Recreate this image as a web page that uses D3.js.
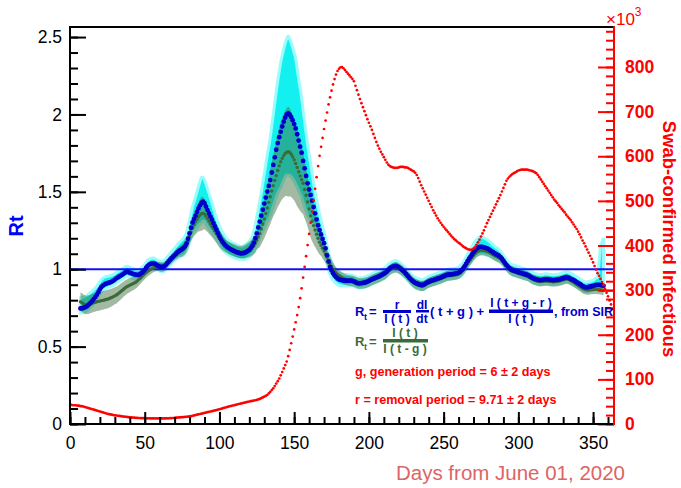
<!DOCTYPE html>
<html><head><meta charset="utf-8">
<script src="https://cdn.jsdelivr.net/npm/d3@7"></script>
<style>body{margin:0;background:#fff} svg{display:block} text{font-family:"Liberation Sans",Arial,sans-serif}</style>
</head><body><svg id="c" width="681" height="488"></svg>
<script>
// ---------------- DATA ----------------
// Swab-confirmed infectious (x10^3), daily from day 0
const redStart = 0;
const infectious = [
43,43,42,42,42,41,41,40,40,39,
38,37,36,35,34,33,32,31,30,29,
28,27,26,25,24,23,22,21.5,21,20,
19.5,19,18.5,18,17.5,17,16.6,16.2,15.8,15.4,
15,14.7,14.4,14.1,13.8,13.6,13.4,13.2,13.1,13,
13,12.9,12.8,12.7,12.6,12.5,12.5,12.4,12.4,12.4,
12.4,12.4,12.5,12.5,12.6,12.7,12.8,13,13.2,13.5,
13.8,14.1,14.4,14.7,15,15.3,15.6,15.9,16.2,16.5,
16.9,17.6,18.4,19.2,20,20.8,21.6,22.4,23.2,24,
24.8,25.6,26.4,27.2,28,28.8,29.6,30.4,31.2,32,
33,34,35,36,37,38,39,39.8,40.6,41.4,
42.2,43,44,44.8,45.6,46.4,47.2,48,48.8,49.6,
50.4,51.1,51.8,52.5,53.2,54,55,56.3,57.8,59.5,
61.3,63.1,65,68.5,72,76,80,85,90.5,96,
102,109,116.5,124.5,132,140,152,166,181,196,
212,228,244,262,282,304,328,352,376,401,
426,451,476,501,527,553,578,601,621,641,
661,680,698,716,732,747,761,773,783,791,
796,799,800,797,793,789,785,781,777,773,
768,758,748,738,728,719,710,701,692,683,
675,667,659,650,641,632,624,617,610,604,
598,592,586,581,578,576,575,574,574,574,
575,576,576,576,575,575,574,572,570,568,
566,563,558,551,543,535,528,521,514,507,
500,493,486,479,473,467,461,456,451,446,
442,438,434,430,426,422,418,415,412,409,
406,404,401,398,396,394,392,391,390,391,
393,396,401,407,413,420,427,434,442,450,
457,464,471,478,485,492,499,506,513,521,
529,537,545,550,554,557,560,562,564,566,
568,569,570,570,570,570,570,569,568,567,
566,564,562,558,553,548,543,538,533,528,
523,518,513,508,503,499,495,490,486,482,
478,474,469,465,461,457,452,447,442,437,
431,425,418,411,405,398,391,384,377,370,
362,354,346,338,332,325,318,311,303,294,
286,277,268,258];

// Rt from SIR (blue) and Rt = I(t)/I(t-g) (green), daily from day 7
const rtStart = 7;
const rtSIR = [
0.747,0.748,0.750,
0.754,0.758,0.766,0.776,0.786,0.797,0.809,0.821,0.835,0.852,
0.870,0.885,0.894,0.901,0.906,0.910,0.913,0.916,0.920,0.926,
0.933,0.941,0.947,0.953,0.959,0.965,0.972,0.979,0.983,0.982,
0.978,0.974,0.970,0.967,0.965,0.964,0.964,0.969,0.976,0.984,
0.996,1.010,1.022,1.030,1.035,1.038,1.038,1.034,1.027,1.021,
1.017,1.015,1.015,1.018,1.027,1.039,1.050,1.060,1.071,1.081,
1.090,1.100,1.110,1.118,1.124,1.130,1.137,1.148,1.167,1.197,
1.232,1.268,1.302,1.325,1.346,1.370,1.393,1.413,1.430,1.436,
1.427,1.405,1.382,1.360,1.340,1.320,1.298,1.276,1.255,1.233,
1.212,1.193,1.178,1.165,1.154,1.145,1.138,1.132,1.126,1.121,
1.117,1.112,1.108,1.105,1.103,1.103,1.104,1.107,1.112,1.118,
1.125,1.137,1.152,1.172,1.200,1.232,1.270,1.308,1.346,1.385,
1.424,1.463,1.502,1.538,1.576,1.625,1.674,1.723,1.772,1.815,
1.853,1.888,1.922,1.953,1.980,2.000,2.007,1.998,1.983,1.962,
1.938,1.910,1.872,1.831,1.792,1.753,1.700,1.652,1.603,1.555,
1.515,1.480,1.443,1.402,1.361,1.322,1.284,1.253,1.225,1.196,
1.168,1.135,1.090,1.050,1.015,0.992,0.974,0.960,0.949,0.940,
0.934,0.931,0.929,0.927,0.926,0.926,0.926,0.926,0.926,0.925,
0.921,0.916,0.911,0.909,0.909,0.910,0.912,0.914,0.916,0.920,
0.925,0.930,0.935,0.939,0.943,0.947,0.951,0.955,0.960,0.966,
0.971,0.977,0.986,0.996,1.005,1.012,1.017,1.020,1.021,1.018,
1.012,1.005,0.997,0.988,0.979,0.968,0.957,0.945,0.935,0.926,
0.918,0.912,0.908,0.904,0.900,0.898,0.898,0.902,0.909,0.915,
0.919,0.923,0.927,0.930,0.933,0.936,0.940,0.943,0.946,0.950,
0.955,0.959,0.963,0.965,0.966,0.967,0.968,0.970,0.972,0.974,
0.977,0.984,0.993,1.003,1.018,1.035,1.052,1.068,1.081,1.095,
1.110,1.122,1.132,1.140,1.144,1.145,1.144,1.141,1.138,1.135,
1.130,1.124,1.117,1.110,1.104,1.098,1.093,1.087,1.080,1.068,
1.055,1.041,1.028,1.017,1.007,0.999,0.994,0.991,0.988,0.985,
0.981,0.978,0.975,0.972,0.969,0.966,0.963,0.958,0.952,0.946,
0.941,0.938,0.935,0.932,0.930,0.930,0.931,0.933,0.935,0.935,
0.934,0.932,0.931,0.930,0.930,0.931,0.932,0.934,0.936,0.939,
0.942,0.945,0.948,0.947,0.943,0.938,0.933,0.929,0.923,0.916,
0.910,0.905,0.898,0.891,0.886,0.883,0.883,0.885,0.887,0.890,
0.893,0.896,0.898,0.899,0.899,0.898,0.896,0.893];

const rtRatio = [
0.790,0.784,0.777,
0.771,0.769,0.770,0.773,0.777,0.781,0.784,0.787,0.790,0.792,
0.794,0.797,0.799,0.801,0.804,0.806,0.810,0.814,0.818,0.823,
0.828,0.833,0.840,0.848,0.856,0.864,0.872,0.880,0.887,0.892,
0.897,0.902,0.906,0.911,0.916,0.924,0.933,0.942,0.952,0.962,
0.971,0.979,0.987,0.993,0.999,1.005,1.010,1.015,1.018,1.018,
1.016,1.014,1.014,1.017,1.025,1.036,1.047,1.057,1.067,1.077,
1.086,1.095,1.104,1.111,1.117,1.123,1.130,1.140,1.157,1.182,
1.212,1.240,1.266,1.287,1.306,1.323,1.338,1.350,1.358,1.361,
1.356,1.343,1.327,1.310,1.294,1.278,1.262,1.246,1.230,1.214,
1.199,1.185,1.173,1.162,1.153,1.145,1.139,1.134,1.129,1.125,
1.121,1.117,1.114,1.112,1.110,1.110,1.111,1.114,1.118,1.123,
1.129,1.136,1.143,1.152,1.166,1.186,1.208,1.230,1.260,1.292,
1.325,1.360,1.396,1.432,1.468,1.505,1.540,1.573,1.605,1.638,
1.668,1.694,1.716,1.734,1.748,1.756,1.759,1.755,1.743,1.727,
1.707,1.683,1.657,1.630,1.603,1.578,1.555,1.515,1.478,1.435,
1.390,1.345,1.310,1.282,1.253,1.226,1.200,1.175,1.155,1.136,
1.117,1.098,1.077,1.055,1.036,1.018,1.002,0.989,0.978,0.968,
0.960,0.953,0.946,0.940,0.935,0.931,0.928,0.926,0.925,0.923,
0.920,0.916,0.912,0.909,0.908,0.908,0.909,0.911,0.913,0.916,
0.920,0.925,0.930,0.934,0.938,0.942,0.946,0.950,0.955,0.960,
0.965,0.970,0.978,0.987,0.995,1.002,1.007,1.010,1.011,1.009,
1.005,0.999,0.992,0.984,0.975,0.965,0.954,0.943,0.932,0.922,
0.913,0.906,0.901,0.897,0.894,0.892,0.892,0.895,0.901,0.907,
0.912,0.916,0.920,0.923,0.926,0.929,0.933,0.936,0.939,0.943,
0.947,0.951,0.955,0.958,0.959,0.960,0.961,0.963,0.965,0.967,
0.970,0.976,0.984,0.993,1.006,1.021,1.036,1.050,1.062,1.075,
1.088,1.099,1.109,1.116,1.121,1.124,1.124,1.122,1.119,1.116,
1.112,1.107,1.101,1.095,1.089,1.084,1.079,1.073,1.067,1.057,
1.045,1.032,1.020,1.009,1.000,0.992,0.987,0.983,0.980,0.977,
0.973,0.970,0.967,0.964,0.961,0.958,0.955,0.950,0.944,0.938,
0.933,0.929,0.926,0.923,0.921,0.920,0.921,0.922,0.924,0.924,
0.923,0.921,0.920,0.919,0.919,0.920,0.921,0.923,0.925,0.928,
0.931,0.934,0.937,0.936,0.932,0.927,0.921,0.916,0.909,0.902,
0.895,0.889,0.882,0.875,0.870,0.867,0.866,0.866,0.867,0.868,
0.869,0.870,0.870,0.869,0.868,0.866,0.864,0.862];

// error extents above / below the curves (read at these days)
const cyanDays = [7,12,20,30,40,50,60,70,78,83,88,93,98,105,115,122,128,135,141,146,151,157,163,170,178,190,260,268,275,282,290,350,353,355,357];
const cyanHi   = [0.07,0.07,0.05,0.04,0.035,0.035,0.035,0.045,0.07,0.11,0.165,0.13,0.075,0.05,0.045,0.06,0.15,0.3,0.45,0.5,0.45,0.3,0.15,0.07,0.045,0.035,0.035,0.05,0.065,0.05,0.035,0.035,0.05,0.25,0.31];
const cyanLo   = [0.03,0.03,0.03,0.03,0.03,0.03,0.03,0.035,0.05,0.08,0.13,0.1,0.06,0.045,0.04,0.05,0.12,0.25,0.36,0.4,0.36,0.25,0.12,0.06,0.04,0.03,0.03,0.04,0.05,0.04,0.03,0.03,0.03,0.03,0.03];
const greenDays = [7,15,25,35,45,55,70,80,88,95,105,115,125,132,140,146,152,160,168,178,357];
const greenErr  = [0.06,0.06,0.06,0.05,0.04,0.03,0.03,0.05,0.11,0.07,0.04,0.04,0.06,0.15,0.25,0.29,0.25,0.15,0.07,0.035,0.03];

const xTicks = [0,50,100,150,200,250,300,350];
const leftTicks = [0,0.5,1,1.5,2,2.5];
const leftTickLabels = ["0","0.5","1","1.5","2","2.5"];
const rightTicks = [0,100,200,300,400,500,600,700,800];

// ---------------- LAYOUT ----------------
const L=70, R=614, T=27, B=424;
const x  = d3.scaleLinear().domain([0,364]).range([L,R]);
const y  = d3.scaleLinear().domain([0,2.565]).range([B,T]);
const y2 = d3.scaleLinear().domain([0,889.6]).range([B,T]);

const svg = d3.select("#c");
svg.append("defs").append("clipPath").attr("id","clip")
  .append("rect").attr("x",L).attr("y",T).attr("width",R-L).attr("height",B-T);
const plot = svg.append("g").attr("clip-path","url(#clip)");

const sir = rtSIR.map((v,i)=>({d:rtStart+i, v}));
const rat = rtRatio.map((v,i)=>({d:rtStart+i, v}));
const inf = infectious.map((v,i)=>({d:redStart+i, v}));
const cH = d3.scaleLinear().domain(cyanDays).range(cyanHi).clamp(true);
const cL = d3.scaleLinear().domain(cyanDays).range(cyanLo).clamp(true);
const gE = d3.scaleLinear().domain(greenDays).range(greenErr).clamp(true);

const areaC = d3.area().x(p=>x(p.d)).y0(p=>y(p.v-cL(p.d))).y1(p=>y(p.v+cH(p.d))).curve(d3.curveMonotoneX);
const areaG = d3.area().x(p=>x(p.d)).y0(p=>y(p.v-gE(p.d))).y1(p=>y(p.v+gE(p.d))).curve(d3.curveMonotoneX);

plot.append("path").datum(sir).attr("d",areaC).attr("fill","#12f0f0").attr("stroke","#9cfbfb").attr("stroke-width",3);
plot.append("path").datum(rat).attr("d",areaG).attr("fill","rgb(60,110,60)").attr("fill-opacity",0.48);

// Rt = 1 line
plot.append("line").attr("x1",L).attr("x2",R).attr("y1",y(1)).attr("y2",y(1))
  .attr("stroke","#1010ff").attr("stroke-width",2);

plot.append("g").selectAll("circle").data(rat).join("circle")
  .attr("cx",p=>x(p.d)).attr("cy",p=>y(p.v)).attr("r",1.7).attr("fill","#3b6b3b");
plot.append("g").selectAll("circle").data(sir).join("circle")
  .attr("cx",p=>x(p.d)).attr("cy",p=>y(p.v)).attr("r",2.4).attr("fill","#0000cc");
plot.append("g").selectAll("circle").data(inf).join("circle")
  .attr("cx",p=>x(p.d)).attr("cy",p=>y2(p.v)).attr("r",1.35).attr("fill","#ff0000");

// ---------------- AXES ----------------
function styleAxis(g, color, weight){
  g.select(".domain").remove();
  g.selectAll("line").attr("stroke",color).attr("stroke-width",2);
  g.selectAll("text").attr("fill",color).attr("font-size","17.5px")
    .attr("font-family","'Liberation Sans',Arial,sans-serif").attr("font-weight",weight);
}
const gl1 = svg.append("g").attr("transform",`translate(${L},0)`)
  .call(d3.axisLeft(y).tickValues(d3.range(0,2.55,0.1)).tickSize(-8).tickFormat(""));
styleAxis(gl1,"#000","normal");
const gl2 = svg.append("g").attr("transform",`translate(${L},0)`)
  .call(d3.axisLeft(y).tickValues(leftTicks).tickFormat((d,i)=>leftTickLabels[i]).tickSize(-16).tickPadding(8));
styleAxis(gl2,"#000","normal");

const gb1 = svg.append("g").attr("transform",`translate(0,${B})`)
  .call(d3.axisBottom(x).tickValues(d3.range(0,361,10)).tickSize(-7).tickFormat(""));
styleAxis(gb1,"#000","normal");
const gb2 = svg.append("g").attr("transform",`translate(0,${B})`)
  .call(d3.axisBottom(x).tickValues(xTicks).tickSize(-12).tickPadding(13).tickFormat(d3.format("d")));
styleAxis(gb2,"#000","normal");

const gr1 = svg.append("g").attr("transform",`translate(${R},0)`)
  .call(d3.axisRight(y2).tickValues(d3.range(0,881,20)).tickSize(-8).tickFormat(""));
styleAxis(gr1,"#ff0000","bold");
const gr2 = svg.append("g").attr("transform",`translate(${R},0)`)
  .call(d3.axisRight(y2).tickValues(rightTicks).tickSize(-16).tickPadding(11).tickFormat(d3.format("d")));
styleAxis(gr2,"#ff0000","bold");

// frame
svg.append("line").attr("x1",L).attr("x2",R).attr("y1",T).attr("y2",T).attr("stroke","#000").attr("stroke-width",2);
svg.append("line").attr("x1",L).attr("x2",L).attr("y1",T-1).attr("y2",B+1).attr("stroke","#000").attr("stroke-width",2);
svg.append("line").attr("x1",L).attr("x2",R).attr("y1",B).attr("y2",B).attr("stroke","#000").attr("stroke-width",2);

// ---------------- TITLES ----------------
const FF = "'Liberation Sans',Arial,sans-serif";
function txt(g, xx, yy, s, size, color, opts={}){
  return g.append("text").attr("x",xx).attr("y",yy).text(s)
    .attr("font-size",size+"px").attr("fill",color).attr("font-family",FF)
    .attr("font-weight",opts.weight||"normal").attr("text-anchor",opts.anchor||"start");
}
txt(svg,0,0,"Rt",20,"#0000ff",{weight:"bold",anchor:"middle"})
  .attr("transform","translate(23,226) rotate(-90)");
txt(svg,0,0,"Swab-confirmed Infectious",18.5,"#ff0000",{weight:"bold",anchor:"middle"})
  .attr("transform","translate(663,239) rotate(90)");
txt(svg,625,480,"Days from June 01, 2020",20.5,"#dd6464",{anchor:"end"});

const xt = svg.append("text").attr("x",606).attr("y",25).attr("fill","#ff0000").attr("font-family",FF);
xt.append("tspan").attr("font-size","17px").text("×10");
xt.append("tspan").attr("font-size","12px").attr("dy",-9).text("3");

// ---------------- FORMULAS ----------------
const fb = "#0000cc", fg = "#3a6b3a", fr = "#ff0000";
const f = svg.append("g");
// line 1
txt(f,355,316,"R",13,fb,{weight:"bold"});
txt(f,364,319.5,"t",9,fb,{weight:"bold"});
txt(f,369,316,"=",13,fb,{weight:"bold"});
txt(f,397,308.5,"r",12,fb,{weight:"bold",anchor:"middle"});
f.append("rect").attr("x",383).attr("y",310).attr("width",28).attr("height",3).attr("fill",fb);
txt(f,397,323,"I ( t )",12,fb,{weight:"bold",anchor:"middle"});
txt(f,422,308.5,"dI",12,fb,{weight:"bold",anchor:"middle"});
f.append("rect").attr("x",416).attr("y",310).attr("width",13).attr("height",2.5).attr("fill",fb);
txt(f,422,323,"dt",12,fb,{weight:"bold",anchor:"middle"});
txt(f,430,316,"( t + g ) +",13,fb,{weight:"bold"});
txt(f,521,307,"I ( t + g - r )",12,fb,{weight:"bold",anchor:"middle"});
f.append("rect").attr("x",489).attr("y",309.5).attr("width",64).attr("height",3.5).attr("fill",fb);
txt(f,521,323,"I ( t )",12,fb,{weight:"bold",anchor:"middle"});
txt(f,554,316,", from SIR",12.5,fb,{weight:"bold"});
// line 2
txt(f,355,346,"R",13,fg,{weight:"bold"});
txt(f,364,349.5,"t",9,fg,{weight:"bold"});
txt(f,369,346,"=",13,fg,{weight:"bold"});
txt(f,405,337,"I ( t )",12,fg,{weight:"bold",anchor:"middle"});
f.append("rect").attr("x",383).attr("y",339).attr("width",45).attr("height",3.5).attr("fill",fg);
txt(f,405,353,"I ( t - g )",12,fg,{weight:"bold",anchor:"middle"});
// lines 3-4
txt(f,355,376,"g, generation period = 6 ± 2 days",12.6,fr,{weight:"bold"});
txt(f,355,404,"r = removal period = 9.71 ± 2 days",12.6,fr,{weight:"bold"});
// right axis line drawn over text overflow
svg.append("line").attr("x1",R).attr("x2",R).attr("y1",T-1).attr("y2",B+1).attr("stroke","#ff0000").attr("stroke-width",2);
</script>
</body></html>
